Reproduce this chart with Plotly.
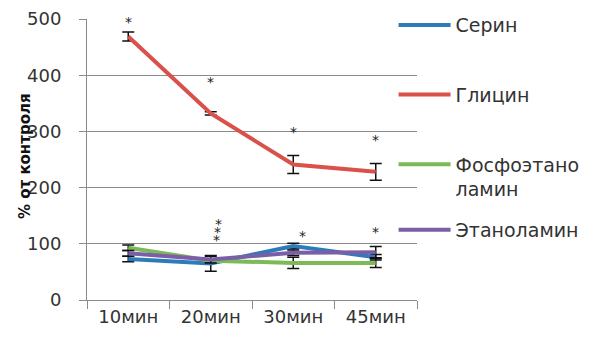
import plotly.graph_objects as go

categories = ["10мин", "20мин", "30мин", "45мин"]

series_names = ["Серин", "Глицин", "Фосфоэтано<br>ламин", "Этаноламин"]
serine = [73, 65, 96, 76]
glycine = [469, 332, 241, 228]
phosphoethanolamine = [93, 70, 66, 66]
ethanolamine = [83, 72, 84, 85]

serine_err = [5, 14, 5, 5]
glycine_err = [8, 3, 16, 15]
phosphoethanolamine_err = [5, 3, 10, 8]
ethanolamine_err = [5, 6, 5, 10]

colors = ["#2E7BB9", "#DA504B", "#7CB957", "#7B5EA8"]
legend_ids = ["legend", "legend", "legend", "legend2"]

# significance marks: (category, value, horizontal pixel shift)
star_cats = ["10мин", "20мин", "30мин", "45мин", "20мин", "20мин", "20мин", "30мин", "45мин"]
star_vals = [500, 393, 304, 290, 140, 126, 112, 120, 127]
star_shift = [0, 0, 0, 0, 8, 7, 6, 9, 0]

values = [serine, glycine, phosphoethanolamine, ethanolamine]
errors = [serine_err, glycine_err, phosphoethanolamine_err, ethanolamine_err]

fig = go.Figure()
for name, vals, errs, col, lg in zip(series_names, values, errors, colors, legend_ids):
    fig.add_trace(go.Scatter(
        x=categories, y=vals, name=name, mode="lines",
        line=dict(color=col, width=4),
        legendgroup=name, legend=lg,
        error_y=dict(type="data", array=errs, visible=True,
                     color="#111111", thickness=1.5, width=6),
    ))

for c, v, s in zip(star_cats, star_vals, star_shift):
    fig.add_annotation(x=c, y=v, text="*", showarrow=False, xshift=s, yshift=-3,
                       font=dict(size=14, color="#222222", family="DejaVu Sans"))

# vertical axis title, set close to the tick labels
fig.add_annotation(xref="paper", yref="paper", x=-0.188, y=0.512, text="<b>% от контроля</b>",
                   textangle=-90, showarrow=False, xanchor="center", yanchor="middle",
                   font=dict(size=15, color="#111111", family="DejaVu Sans"))

grid = "#8a8a8a"
legend_style = dict(xanchor="left", yanchor="top", valign="top", itemwidth=52,
                    maxheight=340, font=dict(size=19, color="#333333"),
                    bgcolor="rgba(0,0,0,0)")
fig.update_layout(
    width=592, height=343,
    margin=dict(l=87, r=175, t=19, b=43, autoexpand=False),
    paper_bgcolor="white", plot_bgcolor="white",
    font=dict(family="DejaVu Sans, sans-serif", size=18, color="#404040"),
    showlegend=True,
    legend=dict(x=0.929, y=1.046, tracegroupgap=42, **legend_style),
    legend2=dict(x=0.929, y=0.317, **legend_style),
    xaxis=dict(type="category", tickson="boundaries", ticks="outside", ticklen=8,
               tickcolor=grid, showline=True, linecolor=grid, linewidth=1,
               showgrid=False, range=[-0.5, 3.5],
               tickfont=dict(size=18, color="#333333")),
    yaxis=dict(range=[0, 500], dtick=100, ticks="outside", ticklen=7, tickcolor=grid,
               showgrid=True, gridcolor=grid, gridwidth=1, showline=True,
               linecolor=grid, zeroline=False, ticklabelstandoff=14,
               tickfont=dict(size=18, color="#333333")),
)

fig.write_html("out.html")
